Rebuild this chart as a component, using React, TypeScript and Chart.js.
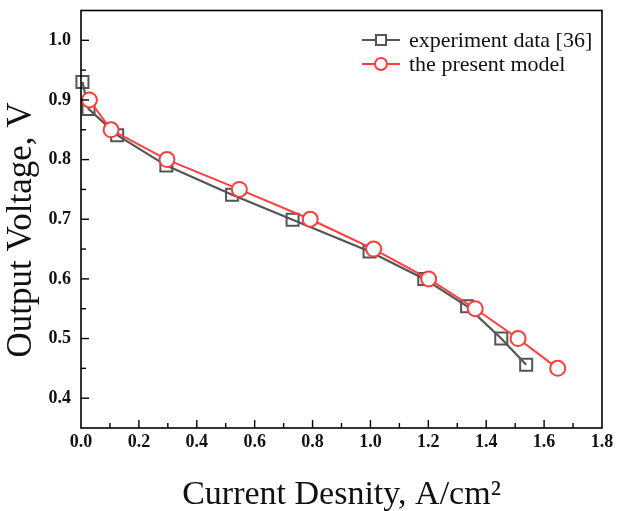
import React, { useEffect, useRef } from "react";
import { Chart, registerables } from "chart.js";

Chart.register(...registerables);

const expX = [0.005, 0.026, 0.125, 0.295, 0.522, 0.731, 0.997, 1.186, 1.334, 1.452, 1.538];
const expY = [0.93, 0.885, 0.841, 0.79, 0.741, 0.699, 0.646, 0.6, 0.554, 0.5, 0.456];
const modelX = [0.029, 0.104, 0.297, 0.547, 0.792, 1.011, 1.201, 1.362, 1.51, 1.647];
const modelY = [0.9, 0.85, 0.8, 0.75, 0.7, 0.65, 0.6, 0.55, 0.5, 0.45];
const xTicks = [0, 0.2, 0.4, 0.6, 0.8, 1.0, 1.2, 1.4, 1.6, 1.8];
const yTicks = [0.4, 0.5, 0.6, 0.7, 0.8, 0.9, 1.0];
const legendLabels = ["experiment data [36]", "the present model"];
const yTitle = "Output Voltage, V";
const xTitle = "Current Desnity, A/cm²";

const GRAY = "#555555";
const RED = "#ff3b3b";
const SERIF = "'Liberation Serif', 'Times New Roman', serif";

const framePlugin = {
  id: "frameTicks",
  afterDraw(chart: any) {
    const { ctx, chartArea } = chart;
    const xs = chart.scales.x;
    const ys = chart.scales.y;
    ctx.save();
    ctx.strokeStyle = "#000";
    ctx.lineWidth = 1.6;
    ctx.strokeRect(chartArea.left, chartArea.top, chartArea.right - chartArea.left, chartArea.bottom - chartArea.top);
    ctx.lineWidth = 1.4;
    for (let i = 1; i < 18; i++) {
      const px = xs.getPixelForValue(i / 10);
      const len = i % 2 === 0 ? 8 : 5;
      ctx.beginPath();
      ctx.moveTo(px, chartArea.bottom);
      ctx.lineTo(px, chartArea.bottom - len);
      ctx.stroke();
    }
    for (let i = 8; i <= 20; i++) {
      const py = ys.getPixelForValue(i * 0.05);
      const len = i % 2 === 0 ? 8 : 5;
      ctx.beginPath();
      ctx.moveTo(chartArea.left, py);
      ctx.lineTo(chartArea.left + len, py);
      ctx.stroke();
    }
    // y title
    ctx.save();
    ctx.translate(22, 230);
    ctx.rotate(-Math.PI / 2);
    ctx.font = `35px ${SERIF}`;
    ctx.fillStyle = "#111";
    ctx.textAlign = "center";
    ctx.textBaseline = "middle";
    ctx.fillText(yTitle, 0, 0);
    ctx.restore();
    // legend
    const lx = 362;
    const rows = [40, 64];
    const colors = [GRAY, RED];
    ctx.font = `22px ${SERIF}`;
    ctx.textBaseline = "middle";
    ctx.textAlign = "left";
    rows.forEach((ry, i) => {
      ctx.strokeStyle = colors[i];
      ctx.lineWidth = 2;
      ctx.beginPath();
      ctx.moveTo(lx, ry);
      ctx.lineTo(lx + 38, ry);
      ctx.stroke();
      ctx.fillStyle = "#fff";
      if (i === 0) {
        ctx.fillRect(lx + 14, ry - 5, 10, 10);
        ctx.strokeRect(lx + 14, ry - 5, 10, 10);
      } else {
        ctx.beginPath();
        ctx.arc(lx + 19, ry, 6, 0, Math.PI * 2);
        ctx.fill();
        ctx.stroke();
      }
      ctx.fillStyle = "#111";
      ctx.fillText(legendLabels[i], lx + 47, ry + 1);
    });
    ctx.restore();
  },
};

export default function App() {
  const ref = useRef<HTMLCanvasElement | null>(null);
  useEffect(() => {
    if (!ref.current) return;
    const chart = new Chart(ref.current, {
      type: "scatter",
      data: {
        datasets: [
          {
            label: legendLabels[0],
            data: expX.map((x, i) => ({ x, y: expY[i] })),
            showLine: true,
            borderColor: GRAY,
            borderWidth: 2.2,
            pointStyle: "rect",
            pointRadius: 8.5,
            pointBorderWidth: 2,
            pointBorderColor: GRAY,
            pointBackgroundColor: "rgba(255,255,255,0)",
            clip: false as any,
            order: 2,
          },
          {
            label: legendLabels[1],
            data: modelX.map((x, i) => ({ x, y: modelY[i] })),
            showLine: true,
            borderColor: RED,
            borderWidth: 2,
            pointStyle: "circle",
            pointRadius: 7.5,
            pointBorderWidth: 2,
            pointBorderColor: RED,
            pointBackgroundColor: "#fff",
            clip: false as any,
            order: 1,
          },
        ],
      },
      options: {
        animation: false,
        responsive: false,
        layout: { padding: { left: 0, right: 15, top: 10, bottom: 0 } },
        plugins: { legend: { display: false }, tooltip: { enabled: false } },
        scales: {
          x: {
            type: "linear",
            min: 0,
            max: 1.8,
            afterBuildTicks: (s: any) => {
              s.ticks = xTicks.map((v) => ({ value: v }));
            },
            afterFit: (s: any) => {
              s.height = 83;
              s.paddingLeft = 0;
              s.paddingRight = 0;
            },
            grid: { display: false, drawTicks: false },
            border: { display: false },
            ticks: {
              padding: 4,
              color: "#111",
              font: { family: SERIF, size: 18, weight: "bold" },
              callback: (v: any) => Number(v).toFixed(1),
            },
            title: {
              display: true,
              text: xTitle,
              color: "#111",
              font: { family: SERIF, size: 34 },
              padding: { top: 10, bottom: -4 },
            },
          },
          y: {
            type: "linear",
            min: 0.35,
            max: 1.05,
            afterBuildTicks: (s: any) => {
              s.ticks = yTicks.map((v) => ({ value: v }));
            },
            afterFit: (s: any) => {
              s.width = 81;
              s.paddingTop = 0;
              s.paddingBottom = 0;
            },
            grid: { display: false, drawTicks: false },
            border: { display: false },
            ticks: {
              padding: 10,
              color: "#111",
              font: { family: SERIF, size: 18, weight: "bold" },
              callback: (v: any) => Number(v).toFixed(1),
            },
            title: { display: false },
          },
        },
      },
      plugins: [framePlugin],
    } as any);
    return () => chart.destroy();
  }, []);
  return (
    <div style={{ position: "fixed", left: 0, top: 0, width: 617, height: 511, background: "#fff" }}>
      <canvas ref={ref} width={617} height={511} style={{ width: 617, height: 511 }} />
    </div>
  );
}
